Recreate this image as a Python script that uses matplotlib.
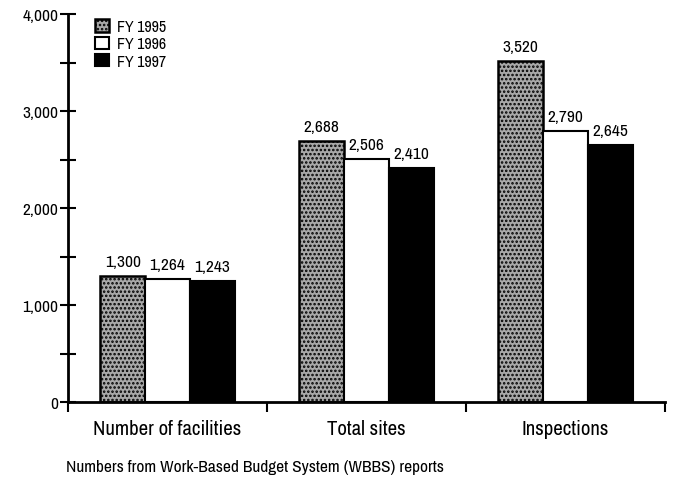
import matplotlib
matplotlib.use("Agg")
import matplotlib.pyplot as plt
from matplotlib.patches import Patch
import numpy as np

plt.rcParams["font.family"] = ["Archivo Narrow", "DejaVu Sans"]
plt.rcParams["hatch.linewidth"] = 1.2

categories = ["Number of facilities", "Total sites", "Inspections"]
years = ["FY 1995", "FY 1996", "FY 1997"]
fy1995 = [1300, 2688, 3520]
fy1996 = [1264, 2506, 2790]
fy1997 = [1243, 2410, 2645]
yticks = [0, 1000, 2000, 3000, 4000]
ytick_labels = ["0", "1,000", "2,000", "3,000", "4,000"]
footnote = "Numbers from Work-Based Budget System (WBBS) reports"

fig = plt.figure(figsize=(6.74, 4.81), dpi=100)
ax = fig.add_axes([68 / 674, 1 - 403 / 481, (665 - 68) / 674, (403 - 15) / 481])

x = np.arange(len(categories)) + 0.5
w = 0.225
styles = [
    dict(facecolor="#a8a8a8", edgecolor="black", hatch="....", linewidth=1.8),
    dict(facecolor="white", edgecolor="black", linewidth=1.5),
    dict(facecolor="black", edgecolor="black", linewidth=1.5),
]
for i, (vals, st) in enumerate(zip([fy1995, fy1996, fy1997], styles)):
    bars = ax.bar(x + (i - 1) * w, vals, w, **st)
    for b, v in zip(bars, vals):
        ax.annotate(f"{v:,}", (b.get_x() + b.get_width() / 2, v),
                    xytext=(0, 5), textcoords="offset points",
                    ha="center", va="bottom", fontsize=12.5)

ax.set_xlim(0, 3)
ax.set_ylim(0, 4000)
for s in ["top", "right"]:
    ax.spines[s].set_visible(False)
ax.spines["left"].set_linewidth(2)
ax.spines["bottom"].set_linewidth(2)

ax.set_yticks(np.arange(0, 4001, 500))
ax.set_yticklabels([ytick_labels[yticks.index(t)] if t in yticks else "" for t in range(0, 4001, 500)],
                   fontsize=12.5)
ax.tick_params(axis="y", direction="inout", length=12, width=1.5, pad=1)

ax.set_xticks([0, 1, 2, 3])
ax.set_xticklabels([])
ax.tick_params(axis="x", which="major", direction="out", length=7, width=1.5)
ax.set_xticks(x, minor=True)
ax.set_xticklabels(categories, minor=True, fontsize=15)
ax.tick_params(axis="x", which="minor", length=0, pad=12)

handles = [Patch(**st) for st in styles]
fig.legend(handles, years, loc="upper left", bbox_to_anchor=(95 / 674, 1 - 20 / 481),
           frameon=False, fontsize=11.5, borderpad=0, handlelength=0.85, handleheight=0.8,
           handletextpad=0.55, labelspacing=0.15, borderaxespad=0)

fig.text(66 / 674, 1 - 468 / 481, footnote, fontsize=12.5, va="center", ha="left")

fig.savefig("out.png", dpi=100)
